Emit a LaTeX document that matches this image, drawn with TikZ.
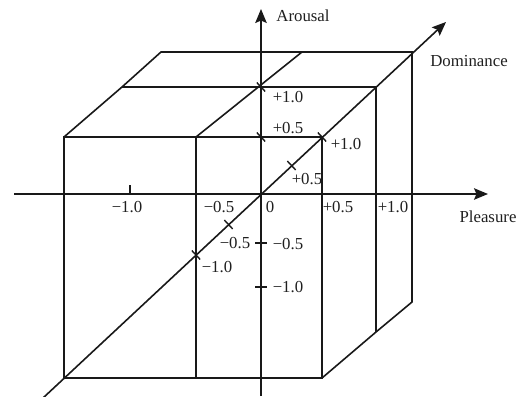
\documentclass[tikz,border=0pt]{standalone}
\usepackage{fontspec}
\setmainfont{Liberation Serif}
\usetikzlibrary{arrows.meta}
\begin{document}
\begin{tikzpicture}[x=1pt,y=-1pt,
  edge/.style={line width=1.6pt, black!90, line join=miter},
  axis/.style={edge, -{Stealth[length=14pt,width=11.5pt,inset=2.5pt]}},
  tick/.style={line width=1.4pt, black!90},
  lab/.style={font=\fontsize{16.8}{18}\selectfont, inner sep=0pt, text=black!88}]
\useasboundingbox (0,0) rectangle (527,396);
% key points
\coordinate (O) at (261,194);
\coordinate (F1) at (64,137);
\coordinate (F2) at (322,137);
\coordinate (F3) at (322,378);
\coordinate (F4) at (64,378);
\coordinate (M1) at (122,87);
\coordinate (M2) at (376,87);
\coordinate (M3) at (376,332);
\coordinate (B1) at (161,52);
\coordinate (B2) at (412,52);
\coordinate (B3) at (412,302);
\coordinate (I1) at (196,137);
\coordinate (I2) at (196,378);
\coordinate (I3) at (302,52);
% axis ends
\coordinate (PL) at (14,194);
\coordinate (PR) at (488,194);
\coordinate (AB) at (261,396);
\coordinate (AT) at (261,9);
\coordinate (DB) at (43,398);
\coordinate (DT) at (446,22);
% cube
\draw[edge] (F1) -- (F2) -- (F3) -- (F4) -- cycle;
\draw[edge] (F1) -- (M1) -- (B1) -- (B2) -- (B3) -- (M3) -- (F3);
\draw[edge] (M1) -- (M2) -- (M3);
\draw[edge] (I2) -- (I1) -- (I3);
% axes
\draw[axis] (PL) -- (PR);
\draw[axis] (AB) -- (AT);
\draw[axis] (DB) -- (DT);
% ticks
\coordinate (TP1) at (130,194);
\draw[tick] (TP1) -- ++(0,-9);
\coordinate (TA1) at (261,243);
\coordinate (TA2) at (261,287);
\draw[tick] (TA1) ++(-6,0) -- ++(12,0);
\draw[tick] (TA2) ++(-6,0) -- ++(12,0);
\foreach \p in {(261,87),(261,137),(291.5,165.5),(322,137),(228.5,224.5),(196,255)}{
  \draw[tick] \p ++(-4.2,-4.5) -- ++(8.4,9);
}
% axis titles
\node[lab] (tA) at (303,16) {Arousal};
\node[lab] (tD) at (469,61) {Dominance};
\node[lab] (tP) at (488,217) {Pleasure};
% pleasure labels
\node[lab] (p1) at (127,207) {−1.0};
\node[lab] (p2) at (219,207) {−0.5};
\node[lab] (p0) at (270,207) {0};
\node[lab] (p3) at (338,207) {+0.5};
\node[lab] (p4) at (393,207) {+1.0};
% arousal labels
\node[lab] (a4) at (288,97) {+1.0};
\node[lab] (a3) at (288,128) {+0.5};
\node[lab] (a2) at (288,244) {−0.5};
\node[lab] (a1) at (288,287) {−1.0};
% dominance labels
\node[lab] (d4) at (346,144) {+1.0};
\node[lab] (d3) at (307,179) {+0.5};
\node[lab] (d2) at (235,243) {−0.5};
\node[lab] (d1) at (217,267) {−1.0};
\end{tikzpicture}
\end{document}
